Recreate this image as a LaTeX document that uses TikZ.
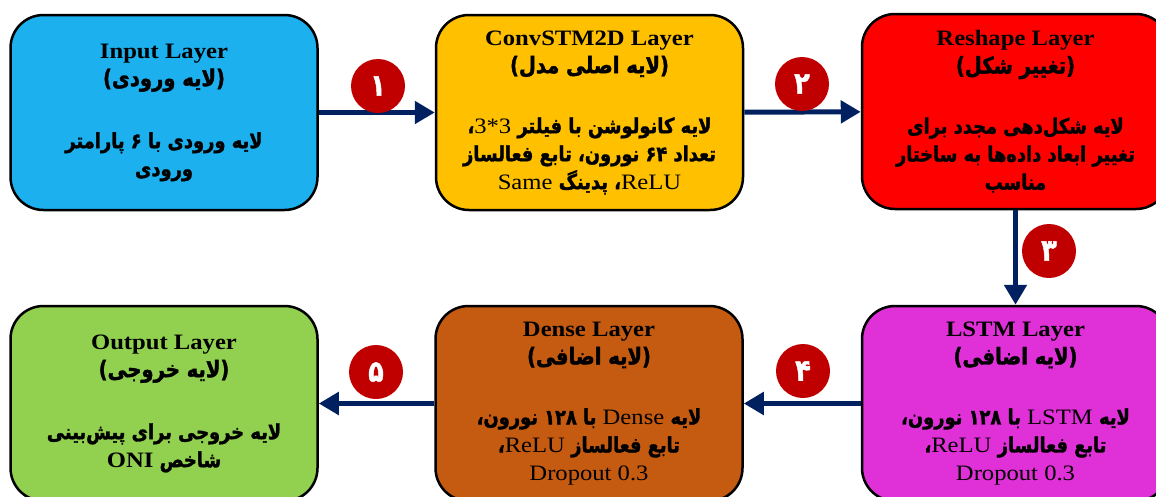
\documentclass[tikz,border=0pt]{standalone}
\usepackage{fontspec}
\setmainfont{Liberation Serif}[FakeStretch=1.12]
\newfontfamily\fa[Script=Arabic,FakeBold=1.6,FakeStretch=0.85]{DejaVu Sans Bold}
\TeXXeTstate=1
\usetikzlibrary{arrows.meta}
\definecolor{cIn}{HTML}{1CB0EE}
\definecolor{cConv}{HTML}{FFC000}
\definecolor{cRes}{HTML}{FF0000}
\definecolor{cLstm}{HTML}{E030D8}
\definecolor{cDense}{HTML}{C55A11}
\definecolor{cOut}{HTML}{92D050}
\definecolor{cNum}{HTML}{C00000}
\definecolor{cArr}{HTML}{002060}
\newcommand\Rt[1]{{\fa\fontsize{21}{28}\selectfont\beginR #1\endR}}
\newcommand\Lt[1]{\beginL{\normalfont\fontsize{22}{28}\selectfont #1}\endL}
\newcommand\Paren[1]{{\fa\fontsize{23}{28}\selectfont)}{\fa\fontsize{23}{28}\selectfont\beginR #1\endR}{\fa\fontsize{23}{28}\selectfont(}}
\tikzset{
  box/.style={draw=black, line width=2.5pt, rounded corners=33pt, minimum width=307pt,
    minimum height=195pt, align=center, inner sep=0pt, font=\fontsize{22}{28}\selectfont},
  arr/.style={draw=cArr, line width=5pt, -{Triangle[length=20pt,width=22pt]}},
  num/.style={circle, fill=cNum, minimum size=54pt, inner sep=0pt, text=white,
    font=\fa\fontsize{30}{28}\selectfont}
}
\begin{document}
\begin{tikzpicture}[x=1pt,y=-1pt]
\useasboundingbox (0,0) rectangle (1156,496);
\clip (0,0) rectangle (1156,496);
\node[box, fill=cIn] (in) at (164,112.5) {\textbf{Input Layer}\\
  \Paren{لایه ورودی}\\[34pt]
  \Rt{لایه ورودی با ۶ پارامتر}\\
  \Rt{ورودی}};
\node[box, fill=cConv] (conv) at (589.5,112.5) {\textbf{ConvSTM2D Layer}\\
  \Paren{لایه اصلی مدل}\\[32pt]
  \Rt{لایه کانولوشن با فیلتر \Lt{3*3}،}\\
  \Rt{تعداد ۶۴ نورون، تابع فعالساز}\\
  \Rt{\Lt{ReLU}، پدینگ \Lt{Same}}};
\node[box, fill=cRes] (res) at (1015.5,111.5) {\textbf{Reshape Layer}\\
  \Paren{تغییر شکل}\\[32pt]
  \Rt{لایه شکل‌دهی مجدد برای}\\
  \Rt{تغییر ابعاد داده‌ها به ساختار}\\
  \Rt{مناسب}};
\node[box, fill=cLstm] (lstm) at (1015.5,403.5) {\textbf{LSTM Layer}\\
  \Paren{لایه اضافی}\\[32pt]
  \Rt{لایه \Lt{LSTM} با ۱۲۸ نورون،}\\
  \Rt{تابع فعالساز \Lt{ReLU}،}\\
  \Lt{Dropout 0.3}};
\node[box, fill=cDense] (dense) at (589,403.5) {\textbf{Dense Layer}\\
  \Paren{لایه اضافی}\\[32pt]
  \Rt{لایه \Lt{Dense} با ۱۲۸ نورون،}\\
  \Rt{تابع فعالساز \Lt{ReLU}،}\\
  \Lt{Dropout 0.3}};
\node[box, fill=cOut] (out) at (164,403.5) {\textbf{Output Layer}\\
  \Paren{لایه خروجی}\\[34pt]
  \Rt{لایه خروجی برای پیش‌بینی}\\
  \Rt{شاخص \Lt{\bfseries ONI}}};
\draw[arr] (in) -- (conv);
\draw[arr] (conv) -- (res);
\draw[arr] (res) -- (lstm);
\draw[arr] (lstm) -- (dense);
\draw[arr] (dense) -- (out);
\node[num] (n1) at (378,86) {۱};
\node[num] (n2) at (802,84) {۲};
\node[num] (n3) at (1049,251) {۳};
\node[num] (n4) at (803,371) {۴};
\node[num] (n5) at (376,372) {۵};
\end{tikzpicture}
\end{document}
